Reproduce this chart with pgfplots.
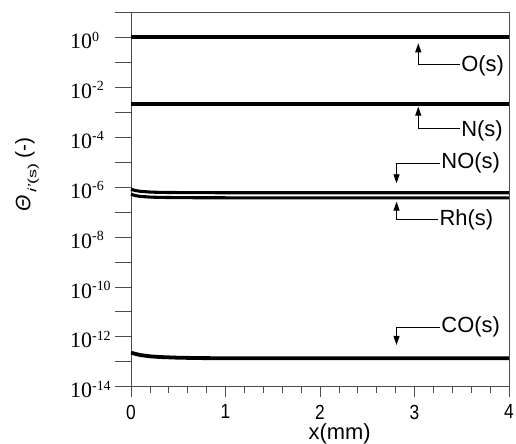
\documentclass[border=0pt]{standalone}
\usepackage{fontspec}
\setmainfont{Liberation Serif}
\setsansfont{Liberation Sans}
\usepackage{pgfplots}
\pgfplotsset{compat=1.18}
\usetikzlibrary{arrows.meta}
\newcommand{\tl}[1]{10\raisebox{7.4bp}{\fontsize{14}{14}\selectfont #1}}
\newcommand{\xl}[1]{\scalebox{0.85}[1]{#1}}
\begin{document}
\begin{tikzpicture}
\begin{axis}[
  scale only axis, width=378bp, height=374.4bp,
  at={(0,0)}, anchor=south west,
  xmin=0, xmax=4, ymode=log, ymin=1e-14, ymax=10,
  axis line style={line width=0.8bp, black!70},
  every tick/.style={line width=0.7bp, black!70},
  tick align=outside,
  xtick pos=bottom, ytick pos=left,
  xtick={0,1,2,3,4},
  xticklabels={\xl{0},\xl{1},\xl{2},\xl{3},\xl{4}},
  minor x tick num=4,
  major tick length=16bp, minor tick length=6bp,
  xtick style={/pgfplots/major tick length=10bp},
  ytick={1e-14,1e-13,1e-12,1e-11,1e-10,1e-9,1e-8,1e-7,1e-6,1e-5,1e-4,1e-3,1e-2,1e-1,1,10},
  yticklabels={{\tl{-14}},{},{\tl{-12}},{},{\tl{-10}},{},{\tl{-8}},{},{\tl{-6}},{},{\tl{-4}},{},{\tl{-2}},{},{\tl{0}},{}},
  yminorticks=false,
  yticklabel style={font=\fontsize{22}{22}\selectfont, anchor=west, inner sep=0pt, xshift=-45bp, yshift=-3bp},
  xticklabel style={font=\fontsize{20.5}{20.5}\sffamily, inner sep=0.5bp, yshift=-1.5bp},
  xlabel={x(mm)},
  xlabel style={font=\fontsize{22}{22}\sffamily, inner sep=0pt, at={(axis description cs:0.552,-0.127)}, anchor=center},
  ylabel={\textit{Θ}\raisebox{-6bp}{\fontsize{12}{12}\selectfont\scalebox{1.5}[1]{\,\textit{i'}(s)}}\hspace{5bp}(-)},
  ylabel style={font=\fontsize{21}{21}\sffamily, at={(axis description cs:-0.275,0.566)}, anchor=center, rotate=0},
  clip=false,
]
\addplot[black, line width=3.8bp] coordinates {(0,1.0) (4,1.0)};
\addplot[black, line width=3.8bp] coordinates {(0,2.1e-3) (4,2.1e-3)};
\addplot[black, line width=3.1bp] coordinates {(0,8.1e-7) (0.05,7.2e-7) (0.1,6.7e-7) (0.2,6.3e-7) (0.3,6.1e-7) (0.5,6.0e-7) (1,5.9e-7) (2,5.9e-7) (4,5.9e-7)};
\addplot[black, line width=3.1bp] coordinates {(0,5.1e-7) (0.05,4.5e-7) (0.1,4.2e-7) (0.2,3.95e-7) (0.3,3.85e-7) (0.5,3.75e-7) (1,3.7e-7) (2,3.7e-7) (4,3.7e-7)};
\addplot[black, line width=3.8bp] coordinates {(0,2.3e-13) (0.05,2.05e-13) (0.1,1.85e-13) (0.2,1.65e-13) (0.3,1.55e-13) (0.5,1.45e-13) (0.75,1.4e-13) (1,1.38e-13) (2,1.37e-13) (4,1.37e-13)};
% annotations
\begin{scope}[line width=0.9bp, font=\fontsize{22}{22}\sffamily]
\draw[-{Triangle[length=9bp,width=6bp]}] (axis cs:3.48,0.0851) -- (axis cs:3.04,0.0851) -- (axis cs:3.04,0.575);
\node[anchor=west, inner sep=1bp, yshift=-2bp] at (axis cs:3.48,0.0851) {O(s)};
\draw[-{Triangle[length=9bp,width=6bp]}] (axis cs:3.48,2.24e-4) -- (axis cs:3.04,2.24e-4) -- (axis cs:3.04,1.66e-3);
\node[anchor=west, inner sep=1bp, yshift=-2bp] at (axis cs:3.48,2.24e-4) {N(s)};
\draw[-{Triangle[length=9bp,width=6bp]}] (axis cs:3.27,8.9e-6) -- (axis cs:2.81,8.9e-6) -- (axis cs:2.81,1.41e-6);
\node[anchor=west, inner sep=1bp] at (axis cs:3.27,8.9e-6) {NO(s)};
\draw[-{Triangle[length=9bp,width=6bp]}] (axis cs:3.25,4.8e-8) -- (axis cs:2.81,4.8e-8) -- (axis cs:2.81,2.6e-7);
\node[anchor=west, inner sep=1bp] at (axis cs:3.25,4.8e-8) {Rh(s)};
\draw[-{Triangle[length=9bp,width=6bp]}] (axis cs:3.27,2.45e-12) -- (axis cs:2.81,2.45e-12) -- (axis cs:2.81,4.7e-13);
\node[anchor=west, inner sep=1bp] at (axis cs:3.27,2.45e-12) {CO(s)};
\end{scope}
\end{axis}
\pgfresetboundingbox
\path (-131bp,-57.3bp) rectangle (385bp,386.7bp);
\end{tikzpicture}
\end{document}
